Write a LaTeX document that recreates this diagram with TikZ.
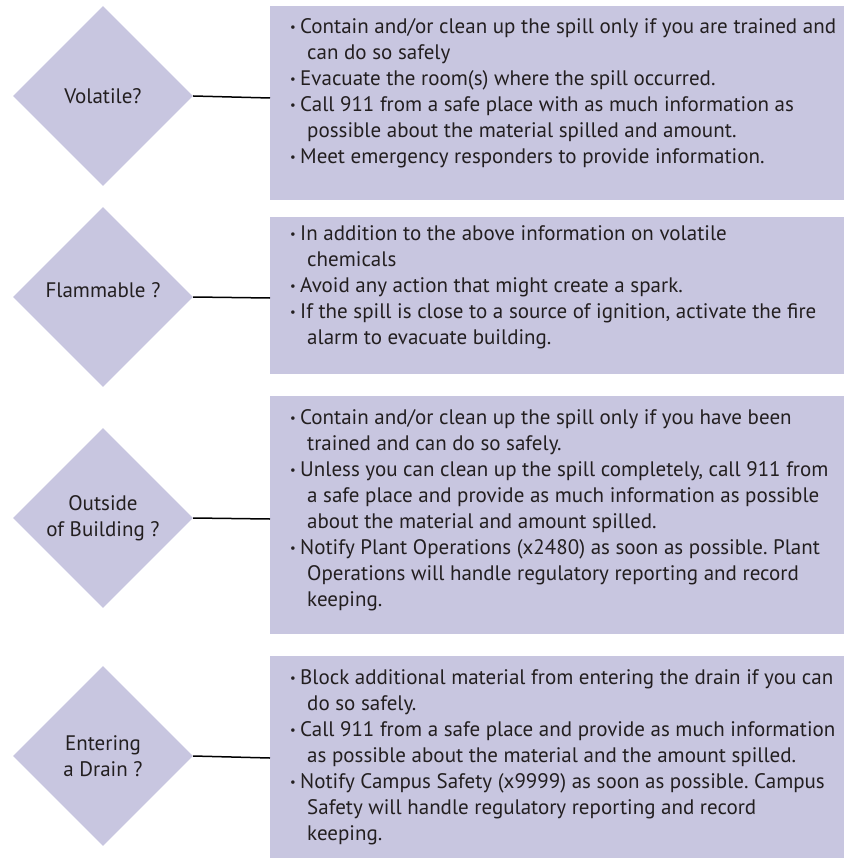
\documentclass[tikz,border=0pt]{standalone}
\usepackage{fontspec}
\setmainfont{PT Sans}
\usetikzlibrary{shapes.geometric,calc}
\definecolor{lav}{RGB}{200,198,224}
\definecolor{ink}{RGB}{35,31,32}
\newcommand{\bul}{\makebox[10pt][l]{\raisebox{0.1em}{\scalebox{0.6}{•}}}}
\newcommand{\ind}{\hspace*{17pt}}
\newcommand{\firstln}{\rule{0pt}{16pt}}
\frenchspacing
\begin{document}
\begin{tikzpicture}[x=1pt,y=-1pt,
  dia/.style={diamond, shape aspect=1, fill=lav, minimum width=180pt, minimum height=180pt,
    inner sep=0pt, align=center, text=ink, font=\fontsize{21}{26}\selectfont},
  panel/.style={rectangle, fill=lav, anchor=north west, inner sep=0pt, minimum width=574pt},
  txt/.style={anchor=north west, inner sep=0pt, align=left, text=ink, font=\fontsize{21}{26}\selectfont},
  conn/.style={draw=black, line width=1.5pt}]
\useasboundingbox (0,0) rectangle (844,858);

% diamonds
\node[dia] (d1) at (103,96) {Volatile?};
\node[dia] (d2) at (103,297) {\raisebox{7pt}[\height][\depth]{Flammable ?}};
\node[dia] (d3) at (103,518) {Outside\\of Building ?};
\node[dia] (d4) at (103,756) {Entering\\a Drain ?};

% panels
\node[panel, minimum height=194pt] (b1) at (270,6) {};
\node[panel, minimum height=157pt] (b2) at (270,217) {};
\node[panel, minimum height=238pt] (b3) at (270,396) {};
\node[panel, minimum height=202pt] (b4) at (270,656) {};

% texts
\node[txt] (t1) at (290,17) {\firstln\bul Contain and/or clean up the spill only if you are trained and\\
\ind can do so safely\\
\bul Evacuate the room(s) where the spill occurred.\\
\bul Call 911 from a safe place with as much information as\\
\ind possible about the material spilled and amount.\\
\bul Meet emergency responders to provide information.};

\node[txt] (t2) at (290,224) {\firstln\bul In addition to the above information on volatile\\
\ind chemicals\\
\bul Avoid any action that might create a spark.\\
\bul If the spill is close to a source of ignition, activate the fire\\
\ind alarm to evacuate building.};

\node[txt] (t3) at (290,408) {\firstln\bul Contain and/or clean up the spill only if you have been\\
\ind trained and can do so safely.\\
\bul Unless you can clean up the spill completely, call 911 from\\
\ind a safe place and provide as much information as possible\\
\ind about the material and amount spilled.\\
\bul Notify Plant Operations (x2480) as soon as possible. Plant\\
\ind Operations will handle regulatory reporting and record\\
\ind keeping.};

\node[txt] (t4) at (290,668) {\firstln\bul Block additional material from entering the drain if you can\\
\ind do so safely.\\
\bul Call 911 from a safe place and provide as much information\\
\ind as possible about the material and the amount spilled.\\
\bul Notify Campus Safety (x9999) as soon as possible. Campus\\
\ind Safety will handle regulatory reporting and record\\
\ind keeping.};

% connectors
\draw[conn] (d1.east) -- ($(d1.east -| b1.west)+(0,2)$);
\draw[conn] (d2.east) -- ($(d2.east -| b2.west)+(0,1)$);
\draw[conn] (d3.east) -- ($(d3.east -| b3.west)+(0,1)$);
\draw[conn] (d4.east) -- ($(d4.east -| b4.west)+(0,2)$);
\end{tikzpicture}
\end{document}
